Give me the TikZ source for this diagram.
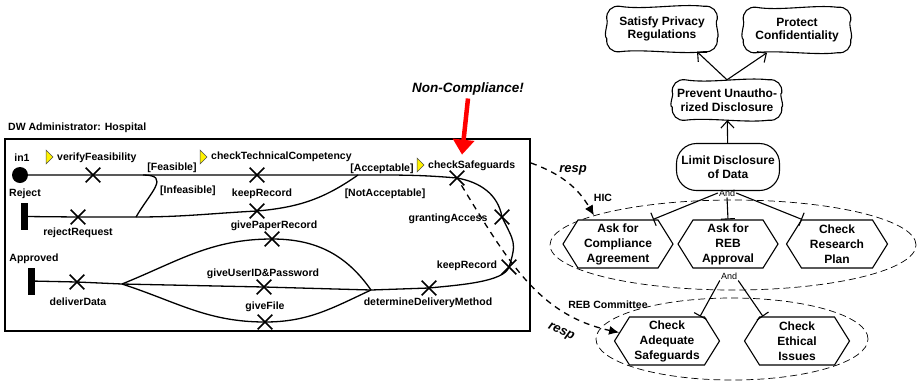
\documentclass[tikz,border=0pt]{standalone}
\usepackage{fontspec}
\setmainfont{Liberation Sans}
\usetikzlibrary{arrows.meta,shapes.misc,shapes.symbols,shapes.geometric}

\newcommand{\urnflag}[1]{\draw[fill=yellow, draw=black!70, line width=.5pt] (#1) -- ++(7,-7) -- ++(-7,-7) -- cycle;}
% wavy outline round a softgoal node
\newcommand{\softline}[1]{%
  \draw[line width=1.1pt] ([xshift=13pt]#1.north west)
    .. controls ([xshift=-18pt,yshift=-4pt]#1.north) and ([xshift=18pt,yshift=3pt]#1.north) .. ([xshift=-13pt]#1.north east)
    .. controls ([xshift=-5pt,yshift=1pt]#1.north east) and ([xshift=1pt,yshift=-5pt]#1.north east) .. ([yshift=-13pt]#1.north east)
    .. controls ([xshift=-3pt,yshift=6pt]#1.east) and ([xshift=3pt,yshift=-6pt]#1.east) .. ([yshift=13pt]#1.south east)
    .. controls ([xshift=1pt,yshift=5pt]#1.south east) and ([xshift=-5pt,yshift=-1pt]#1.south east) .. ([xshift=-13pt]#1.south east)
    .. controls ([xshift=18pt,yshift=-3pt]#1.south) and ([xshift=-18pt,yshift=3pt]#1.south) .. ([xshift=13pt]#1.south west)
    .. controls ([xshift=5pt,yshift=-1pt]#1.south west) and ([xshift=-1pt,yshift=5pt]#1.south west) .. ([yshift=13pt]#1.south west)
    .. controls ([xshift=-4pt,yshift=-6pt]#1.west) and ([xshift=2pt,yshift=6pt]#1.west) .. ([yshift=-13pt]#1.north west)
    .. controls ([xshift=-1pt,yshift=-5pt]#1.north west) and ([xshift=5pt,yshift=1pt]#1.north west) .. ([xshift=13pt]#1.north west) -- cycle;}

\begin{document}
\begin{tikzpicture}[x=1pt,y=1pt,
    lbl/.style={font=\fontsize{10.5}{12}\selectfont\bfseries, inner sep=0pt},
    resp/.style={cross out, draw, line width=1.7pt, minimum size=13pt, inner sep=0pt},
    upath/.style={line width=1.3pt},
    endbar/.style={fill, minimum width=7pt, minimum height=27pt, inner sep=0pt},
    softgoal/.style={font=\fontsize{12}{13.5}\selectfont\bfseries, align=center, inner sep=0pt,
      minimum width=106pt, minimum height=45pt},
    hardgoal/.style={draw, line width=1.1pt, rounded corners=20pt,
      font=\fontsize{12}{13.5}\selectfont\bfseries, align=center, inner sep=0pt,
      minimum width=103pt, minimum height=47pt},
    task/.style={signal, signal to=west and east, signal pointer angle=116, draw, fill=white,
      line width=1.1pt, font=\fontsize{12}{15}\selectfont\bfseries, align=center,
      inner sep=0pt, minimum height=48pt},
    actor/.style={ellipse, draw, line width=.7pt, dash pattern=on 7pt off 4pt},
    andlbl/.style={font=\fontsize{9}{10}\selectfont, inner sep=1pt},
    resplbl/.style={font=\fontsize{13}{14}\selectfont\bfseries\itshape, inner sep=0pt},
    contrib/.style={line width=1.1pt, -{Straight Barb[length=7pt,width=13pt]}},
    decomp/.style={line width=1.1pt, -{Bar[width=14pt,line width=1.1pt]}},
    resplink/.style={line width=1.3pt, dash pattern=on 6pt off 5pt, -{Latex[length=10pt,width=9pt]}},
  ]
  \useasboundingbox (0,0) rectangle (917,-381);

  % component
  \node[lbl, anchor=west] (pool) at (8,-128) {DW Administrator: Hospital};
  \draw[line width=2pt] (5,-139) rectangle (530,-331);

  % start and end points
  \node[circle, fill, minimum size=16pt, inner sep=0pt] (in1) at (20,-175) {};
  \node[lbl] (in1lbl) at (22,-158) {in1};
  \node[endbar] (reject) at (24.5,-216.5) {};
  \node[lbl] (rejectlbl) at (25,-194) {Reject};
  \node[endbar] (approved) at (31,-281) {};
  \node[lbl] (approvedlbl) at (34,-259) {Approved};

  % responsibilities
  \foreach \n/\x/\y in {vf/93/175, ctc/257/175, cs/457/178, ga/502/217, kr2/509/267,
      ddm/429/288, kr1/257/211, rr/78/217, gpr/272/239, guid/264/287, gf/265/322, dd/77/282}
    \node[resp] (\n) at (\x,-\y) {};
  \node[lbl, anchor=west] (vflbl) at (57,-158) {verifyFeasibility};
  \node[lbl, anchor=west] (ctclbl) at (211,-157) {checkTechnicalCompetency};
  \node[lbl, anchor=west] (cslbl) at (428,-166) {checkSafeguards};
  \node[lbl] (galbl) at (448,-219) {grantingAccess};
  \node[lbl] (kr2lbl) at (467,-266) {keepRecord};
  \node[lbl] (ddmlbl) at (428,-303) {determineDeliveryMethod};
  \node[lbl] (kr1lbl) at (262,-194) {keepRecord};
  \node[lbl] (rrlbl) at (78,-233) {rejectRequest};
  \node[lbl] (gprlbl) at (274,-226) {givePaperRecord};
  \node[lbl] (guidlbl) at (263,-274) {giveUserID\&Password};
  \node[lbl] (gflbl) at (265,-307) {giveFile};
  \node[lbl] (ddlbl) at (78,-302) {deliverData};
  \urnflag{46,-150}
  \urnflag{200,-150}
  \urnflag{417,-158}

  % guards
  \node[lbl] (feas) at (172,-168) {[Feasible]};
  \node[lbl, anchor=west] (infeas) at (160,-191) {[Infeasible]};
  \node[lbl] (accept) at (382,-169) {[Acceptable]};
  \node[lbl] (notaccept) at (385,-194) {[NotAcceptable]};

  % paths
  \coordinate (forkF) at (143,-175);
  \coordinate (mergeI) at (136,-217);
  \coordinate (forkA) at (358,-175);
  \coordinate (orL) at (122,-284);
  \coordinate (orR) at (371,-290);
  \draw[upath] (in1) -- (vf.center) -- (forkF) -- (ctc.center) -- (forkA)
    to[out=0,in=175] (cs.center) to[out=-10,in=100] (ga.center)
    .. controls (514,-242) and (517,-242) .. (kr2.center)
    .. controls (504,-282) and (459,-285) .. (ddm.center) -- (orR);
  \draw[upath] (forkF) to[out=0,in=60,looseness=1.7] (mergeI);
  \draw[upath] (reject) -- (rr.center) -- (mergeI) to[out=0,in=183] (kr1.center)
    to[out=5,in=215] (forkA);
  \draw[upath] (approved) -- (dd.center) -- (orL);
  \draw[upath] (orL) to[out=22,in=180] (gpr.center) to[out=0,in=125] (orR);
  \draw[upath] (orL) -- (guid.center) -- (orR);
  \draw[upath] (orL) to[out=-18,in=180] (gf.center) to[out=0,in=-155] (orR);

  % non-compliance
  \node[font=\fontsize{13.5}{15}\selectfont\bfseries\itshape, inner sep=0pt] (nc) at (468,-89) {Non-Compliance!};
  \draw[red, line width=4.5pt, -{Triangle[length=15pt,width=21pt]}] ([yshift=-3pt]nc.south) -- ([xshift=5pt,yshift=16pt]cs.north);

  % goal model
  \node[actor, minimum width=366pt, minimum height=90pt] (hic) at (733,-245) {};
  \node[actor, minimum width=272pt, minimum height=82pt] (reb) at (732,-339) {};
  \node[lbl] (hiclbl) at (603,-198) {HIC};
  \node[lbl] (reblbl) at (608,-305) {REB Committee};

  \node[softgoal, minimum width=110pt] (spr) at (662,-29) {Satisfy Privacy\\Regulations};
  \node[softgoal, minimum width=107pt] (pc) at (797,-30) {Protect\\Confidentiality};
  \node[softgoal, minimum width=109pt, minimum height=40pt] (pud) at (727,-100) {Prevent Unautho-\\rized Disclosure};
  \softline{spr}
  \softline{pc}
  \softline{pud}
  \node[hardgoal] (ldd) at (728,-167) {Limit Disclosure\\of Data};
  \draw[contrib] (pud.north) -- ([xshift=35pt]spr.south);
  \draw[contrib] (pud.north) -- ([xshift=-30pt]pc.south);
  \draw[contrib] (ldd) -- (pud);

  \node[task, minimum width=110pt] (aca) at (618,-244) {Ask for\\Compliance\\Agreement};
  \node[task, minimum width=100pt] (arb) at (728,-244) {Ask for\\REB\\Approval};
  \node[task, minimum width=101pt] (crp) at (837,-244) {Check\\Research\\Plan};
  \node[task, minimum width=105pt] (cas) at (667,-341) {Check\\Adequate\\Safeguards};
  \node[task, minimum width=105pt] (cei) at (797,-341) {Check\\Ethical\\Issues};

  \node[andlbl] (and1) at (727,-193) {And};
  \node[andlbl] (and2) at (729,-276) {And};
  \draw[decomp] (and1.west) -- ([xshift=35pt]aca.north);
  \draw[decomp] (and1.south) -- (arb.north);
  \draw[decomp] (and1.east) -- ([xshift=-35pt]crp.north);
  \draw[decomp] (and2.south west) -- ([xshift=33pt]cas.north);
  \draw[decomp] (and2.south east) -- ([xshift=-34pt]cei.north);

  % responsibility links
  \coordinate (rs1) at (531,-163);
  \draw[resplink] (rs1) to[out=-20,in=120] (hic.168);
  \node[resplbl] (resp1) at (573,-170) {resp};
  \draw[resplink] (cs) .. controls (510,-265) and (540,-315) .. (cas.170);
  \node[resplbl, rotate=-25] (resp2) at (561,-332) {resp};
\end{tikzpicture}
\end{document}
